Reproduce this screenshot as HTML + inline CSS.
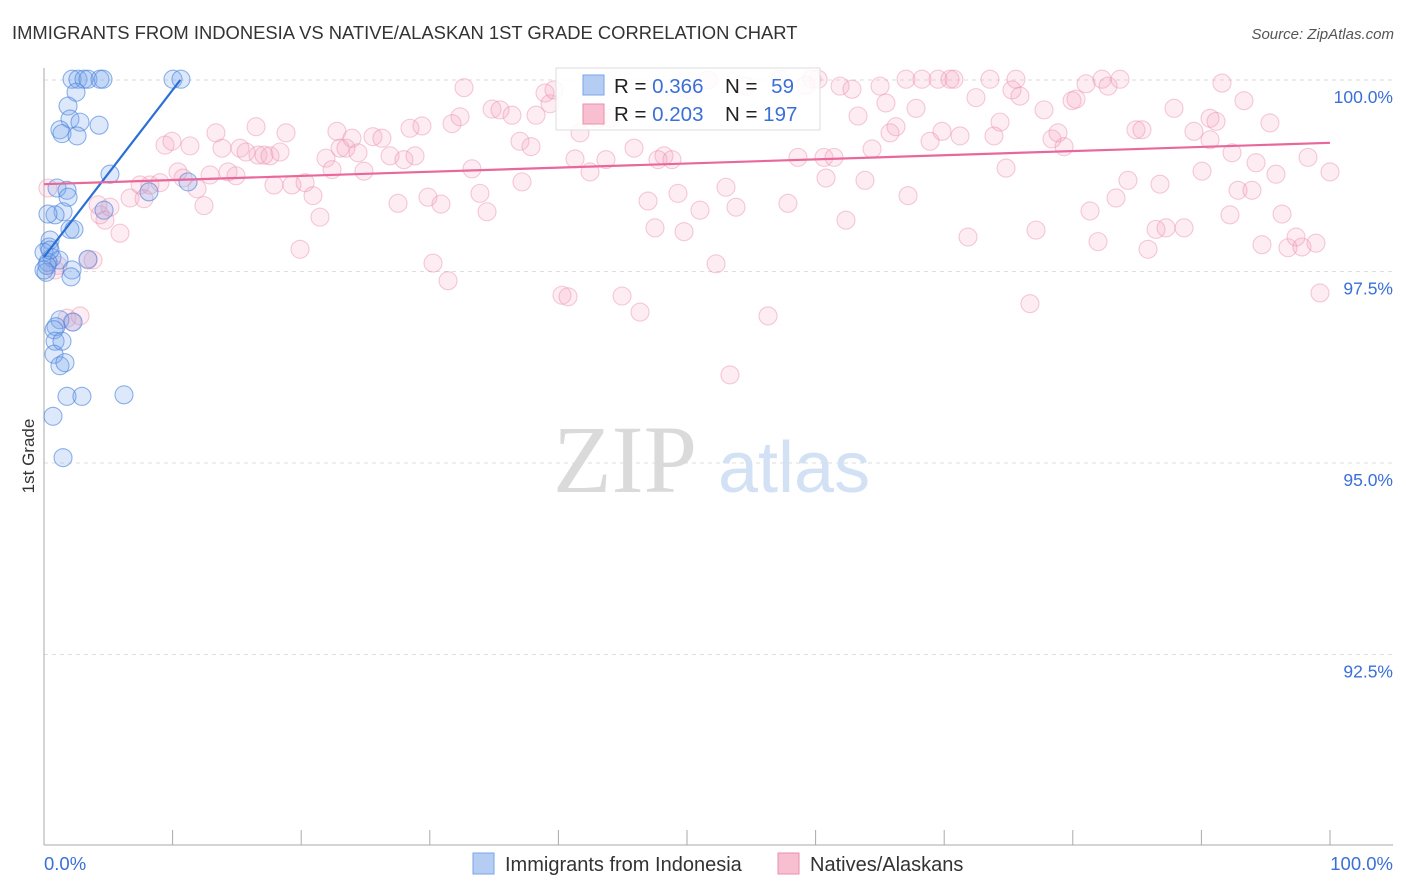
<!DOCTYPE html>
<html><head><meta charset="utf-8">
<style>
body{margin:0;background:#fff;font-family:"Liberation Sans",sans-serif;}
svg{display:block}
</style></head>
<body>
<svg id="chart" width="1406" height="892" viewBox="0 0 1406 892" xmlns="http://www.w3.org/2000/svg">
<text x="12" y="39" font-size="18.4" fill="#333">IMMIGRANTS FROM INDONESIA VS NATIVE/ALASKAN 1ST GRADE CORRELATION CHART</text>
<text x="1394" y="39" font-size="15" fill="#555" font-style="italic" text-anchor="end">Source: ZipAtlas.com</text>
<g id="grid"></g>
<g>
<text x="553" y="492" font-size="96" fill="#dadada" font-family="Liberation Serif,serif">ZIP</text>
<text x="718" y="492" font-size="72" fill="#d3e1f5">atlas</text>
</g>
<line x1="44" y1="68" x2="44" y2="845" stroke="#aaa"/>
<line x1="44" y1="845" x2="1393" y2="845" stroke="#aaa"/>
<g id="xticks"></g>
<g id="ylabels"></g>
<text x="34" y="456" font-size="17" fill="#333" transform="rotate(-90 34 456)" text-anchor="middle">1st Grade</text>
<text x="44" y="870" font-size="18.5" fill="#3a6fd8">0.0%</text>
<text x="1393" y="870" font-size="18.5" fill="#3a6fd8" text-anchor="end">100.0%</text>
<g id="pink"></g>
<g id="blue"></g>
<g id="lines"></g>
<g>
<rect x="556" y="68" width="264" height="62" fill="#fff" fill-opacity="0.85" stroke="#ddd"/>
<rect x="583" y="75" width="21" height="20" fill="#b5cdf3" stroke="#7aa5e8"/>
<rect x="583" y="104" width="21" height="20" fill="#f8bfd0" stroke="#ea8fae"/>
<text x="614" y="93" font-size="20.5" fill="#222">R = <tspan fill="#3a6fd8">0.366</tspan></text>
<text x="725" y="93" font-size="20.5" fill="#222">N = <tspan fill="#3a6fd8" dx="8">59</tspan></text>
<text x="614" y="121" font-size="20.5" fill="#222">R = <tspan fill="#3a6fd8">0.203</tspan></text>
<text x="725" y="121" font-size="20.5" fill="#222">N = <tspan fill="#3a6fd8">197</tspan></text>
</g>
<g>
<rect x="473" y="853" width="21" height="21" fill="#b5cdf3" stroke="#7aa5e8"/>
<text x="505" y="871" font-size="20" fill="#333">Immigrants from Indonesia</text>
<rect x="778" y="853" width="21" height="21" fill="#f8bfd0" stroke="#ea8fae"/>
<text x="810" y="871" font-size="20" fill="#333">Natives/Alaskans</text>
</g>
</svg>
<script>
const yTicks=[100,97.5,95,92.5];
const yTickLabels=["100.0%","97.5%","95.0%","92.5%"];
const xTicks=[0,10,20,30,40,50,60,70,80,90,100];
const blueX=[2.18,2.64,3.11,3.42,4.35,4.59,10.03,10.65,2.49,1.87,2.02,2.80,1.24,1.40,2.57,4.28,5.13,1.01,1.79,1.87,4.67,1.48,0.86,0.31,11.2,8.16,2.02,2.33,0.47,0.39,0,0.62,1.17,3.42,0.31,2.18,2.10,0.16,1.24,0.93,0.78,2.26,0.86,1.40,0.78,1.24,1.63,1.79,2.95,6.22,0.70,1.48,0,0.23,0.47];
const blueY=[100.01,100.01,100.01,100.01,100.01,100.01,100.01,100.01,99.84,99.66,99.49,99.45,99.35,99.30,99.27,99.41,98.77,98.59,98.56,98.47,98.30,98.28,98.24,98.25,98.67,98.54,98.05,98.05,97.91,97.82,97.75,97.68,97.65,97.66,97.62,97.52,97.43,97.49,96.87,96.78,96.74,96.84,96.59,96.59,96.42,96.27,96.31,95.87,95.87,95.89,95.61,95.07,97.52,97.58,97.78];
const pinkX=[0.31,0.86,1.09,1.79,2.18,2.80,3.42,3.81,4.35,4.74,5.13,5.91,6.69,7.47,8.24,9.02,9.41,9.95,10.42,10.81,11.35,11.90,12.44,12.91,13.37,13.84,14.31,14.93,15.24,15.71,16.49,16.64,17.11,17.57,17.88,18.35,18.82,19.28,19.91,20.30,20.92,21.46,21.93,22.40,22.78,23.02,23.48,23.95,24.42,24.88,25.58,26.28,26.91,27.53,27.99,28.46,28.85,29.39,29.86,30.25,30.87,31.42,31.73,32.35,32.66,33.28,33.90,34.45,34.84,35.46,36.39,37.01,37.17,37.87,38.26,38.96,39.35,39.66,40.28,40.75,41.29,41.68,42.46,43.08,43.70,44.01,44.95,45.88,46.35,46.97,47.51,47.74,48.21,48.83,49.30,49.77,50.23,51.01,51.63,52.26,53.03,53.81,54.59,56.30,57.23,57.85,58.63,59.25,59.72,60.19,60.65,60.81,61.43,61.90,62.36,62.83,63.30,63.84,64.39,65.01,65.47,65.79,66.25,67.03,67.19,67.81,68.27,68.90,69.52,69.83,70.45,70.76,71.23,71.85,72.47,73.56,73.87,74.34,74.81,75.27,75.58,75.89,76.67,77.14,77.76,78.38,78.85,79.32,79.94,80.25,81.03,81.34,81.96,82.27,82.74,83.36,83.67,84.29,84.91,85.38,85.85,86.47,86.78,87.25,87.87,88.65,89.42,90.05,90.67,91.14,91.60,92.38,92.85,93.31,93.93,94.25,94.71,95.33,95.80,96.27,96.73,97.36,97.82,98.29,98.91,99.22,100.0,90.67,4.20,7.78,92.22,53.34];
const pinkY=[98.59,97.52,97.58,96.89,96.84,96.92,97.65,97.65,98.24,98.17,98.34,98.00,98.46,98.63,98.63,98.66,99.15,99.20,98.80,98.72,99.14,98.58,98.36,98.76,99.31,99.11,98.80,98.75,99.11,99.06,99.39,99.02,99.02,99.01,98.63,99.06,99.31,98.63,97.79,98.66,98.49,98.21,98.98,98.83,99.33,99.11,99.11,99.24,99.05,98.81,99.26,99.24,99.01,98.39,98.96,99.37,99.01,99.40,98.47,97.61,98.38,97.38,99.43,99.52,99.90,98.84,98.52,98.28,99.62,99.61,99.54,99.20,98.67,99.13,99.54,99.83,99.69,99.87,97.19,97.17,98.97,99.31,98.80,99.50,98.96,99.50,97.18,99.11,96.97,98.42,98.07,98.96,99.01,98.96,98.52,98.02,99.87,98.30,100.00,97.60,98.60,98.34,99.92,96.92,100.01,98.39,98.99,99.93,100.01,100.01,98.99,98.72,98.99,99.92,98.17,99.88,99.53,98.69,99.10,99.92,99.70,99.31,99.39,100.01,98.49,99.63,100.01,99.20,100.01,99.33,100.01,100.01,99.27,97.95,99.77,100.01,99.27,99.45,98.85,99.87,100.01,99.79,97.08,98.04,99.61,99.23,99.31,99.13,99.73,99.75,99.95,98.29,97.89,100.01,99.92,98.46,100.01,98.69,99.35,99.35,97.79,98.05,98.64,98.07,99.63,98.07,99.33,98.81,99.50,99.46,99.96,99.05,98.56,99.73,98.56,98.92,97.85,99.44,98.77,98.25,97.81,97.95,97.82,98.99,97.87,97.22,98.80,99.22,98.37,98.45,98.24,96.15];
const blueTrendX=[0,10.6];
const blueTrendY=[97.69,100.0];
const pinkTrendX=[0,100];
const pinkTrendY=[98.64,99.18];

const NS="http://www.w3.org/2000/svg";
const xs=v=>44+v*12.86;
const ys=v=>80+(100-v)*76.6;
function mk(tag,attrs,parent){const e=document.createElementNS(NS,tag);for(const k in attrs)e.setAttribute(k,attrs[k]);parent.appendChild(e);return e;}
const grid=document.getElementById('grid'),yl=document.getElementById('ylabels'),xt=document.getElementById('xticks');
yTicks.forEach((t,i)=>{
  const l=mk('line',{x1:44,x2:1393,y1:ys(t),y2:ys(t),stroke:'#ddd','stroke-dasharray':'4,4'},grid);
  
  
  const tx=mk('text',{x:1393,y:ys(t)+23,'font-size':17.5,fill:'#3a6fd8','text-anchor':'end'},yl);
  tx.textContent=yTickLabels[i];
  
  
});
xTicks.forEach(t=>{
  const l=mk('line',{x1:xs(t),x2:xs(t),y1:830,y2:845,stroke:'#aaa'},xt);
  
  
});
const pg=document.getElementById('pink');
pinkX.forEach((x,i)=>{
  const c=mk('circle',{cx:xs(x),cy:ys(pinkY[i]),r:9,fill:'rgba(244,160,188,0.2)',stroke:'rgba(232,140,172,0.45)','stroke-width':1.1},pg);
  
  
});
const bg=document.getElementById('blue');
blueX.forEach((x,i)=>{
  const c=mk('circle',{cx:xs(x),cy:ys(blueY[i]),r:9,fill:'rgba(120,165,235,0.25)',stroke:'rgba(70,130,220,0.6)','stroke-width':1.1},bg);
  
  
});
const lg=document.getElementById('lines');
const bl=mk('line',{x1:xs(blueTrendX[0]),y1:ys(blueTrendY[0]),x2:xs(blueTrendX[1]),y2:ys(blueTrendY[1]),stroke:'#2b6fd6','stroke-width':2.2},lg);


const pl=mk('line',{x1:xs(pinkTrendX[0]),y1:ys(pinkTrendY[0]),x2:xs(pinkTrendX[1]),y2:ys(pinkTrendY[1]),stroke:'#e8689a','stroke-width':2.2},lg);


</script>
</body></html>
